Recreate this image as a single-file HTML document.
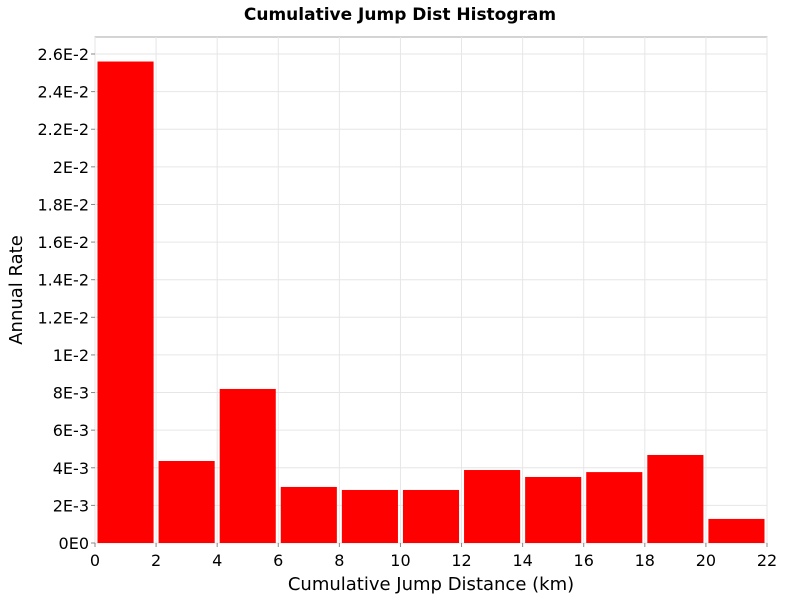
<!DOCTYPE html>
<html><head><meta charset="utf-8"><style>
body{margin:0;background:#fff;}
text{font-family:"DejaVu Sans","Liberation Sans",sans-serif;}
</style></head><body>
<svg id="c" width="800" height="600" xmlns="http://www.w3.org/2000/svg">
<text x="400" y="20" text-anchor="middle" font-size="17" font-weight="bold">Cumulative Jump Dist Histogram</text>
<rect x="95" y="37" width="672" height="506" fill="#fff" stroke="#aaa"/>
<g id="grid"></g><g id="bars"></g><g id="axes"></g>
<text x="431" y="590" text-anchor="middle" font-size="18">Cumulative Jump Distance (km)</text>
<text transform="translate(22,290) rotate(-90)" text-anchor="middle" font-size="18">Annual Rate</text>
</svg>
<script>
const binStarts=[0,2,4,6,8,10,12,14,16,18,20];
const rates=[0.0256,0.00436,0.00819,0.00298,0.00282,0.00282,0.00388,0.00351,0.00377,0.00468,0.00128];
const xTicks=[0,2,4,6,8,10,12,14,16,18,20,22];
const yTicks=[0,0.002,0.004,0.006,0.008,0.01,0.012,0.014,0.016,0.018,0.02,0.022,0.024,0.026];
const yLabels=["0E0","2E-3","4E-3","6E-3","8E-3","1E-2","1.2E-2","1.4E-2","1.6E-2","1.8E-2","2E-2","2.2E-2","2.4E-2","2.6E-2"];
const binWidth=2;
const NS="http://www.w3.org/2000/svg";
const L=95,R=767,T=37,B=543;
const X=v=>L+v/22*(R-L);
const Y=v=>B-v/0.026*489;
function mk(t,a,p){const e=document.createElementNS(NS,t);for(const k in a)e.setAttribute(k,a[k]);p.appendChild(e);return e;}
const g=document.getElementById('grid'),bg=document.getElementById('bars'),ax=document.getElementById('axes');
xTicks.forEach(v=>{
 const l=mk('line',{x1:X(v),x2:X(v),y1:T,y2:B,stroke:'#e6e6e6'},g);
 
 const t=mk('line',{x1:X(v),x2:X(v),y1:B,y2:B+4,stroke:'#888'},ax);
 
 const s=mk('text',{x:X(v),y:B+23,'text-anchor':'middle','font-size':16},ax);s.textContent=v;
 
});
yTicks.forEach((v,i)=>{
 const l=mk('line',{x1:L,x2:R,y1:Y(v),y2:Y(v),stroke:'#e6e6e6'},g);
 
 const t=mk('line',{x1:L-4,x2:L,y1:Y(v),y2:Y(v),stroke:'#888'},ax);
 
 const s=mk('text',{x:L-6,y:Y(v)+6,'text-anchor':'end','font-size':16},ax);s.textContent=yLabels[i];
 
});
binStarts.forEach((s,i)=>{
 const x0=X(s)+2.5,x1=X(s+binWidth)-2.5;
 const r=mk('rect',{x:x0,y:Y(rates[i]),width:x1-x0,height:B-Y(rates[i]),fill:'#ff0000'},bg);
 
});
</script>
</body></html>
